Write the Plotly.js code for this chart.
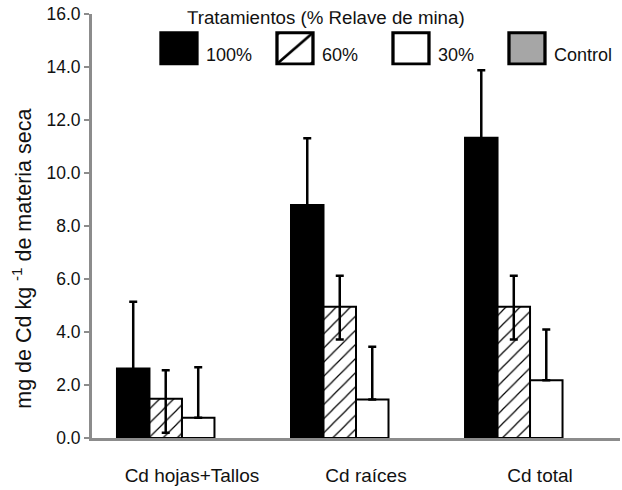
<!DOCTYPE html>
<html><head><meta charset="utf-8">
<script src="https://cdn.plot.ly/plotly-3.0.1.min.js"></script>
<style>
html,body{margin:0;padding:0;background:#fff;}
#chart{width:622px;height:490px;}
.legend .legendpoints path { transform: translate(27px,-5.5px) scale(3,2.6) !important; stroke-width: 1.1px !important; }
.legend .legendtitletext { transform: translate(33px,-12px); }
</style></head>
<body><div id="chart"></div>
<script>
const categories = ["Cd hojas+Tallos", "Cd raíces", "Cd total"];
const seriesNames = ["100%", "60%", "30%", "Control"];
const v100 = [2.62, 8.79, 11.33];
const e100Plus = [2.52, 2.52, 2.55];
const e100Minus = [2.68, 2.52, 2.55];
const v60 = [1.48, 4.95, 4.95];
const e60Plus = [1.08, 1.17, 1.17];
const e60Minus = [1.28, 1.23, 1.23];
const v30 = [0.76, 1.45, 2.18];
const e30Plus = [1.91, 1.99, 1.91];
const e30Minus = [0, 0, 0];
const vControl = [null, null, null];
const yTicks = [0, 2, 4, 6, 8, 10, 12, 14, 16];
const yTitle = "mg de Cd kg <sup>-1</sup> de materia seca";
const legendTitle = "Tratamientos (% Relave de mina)";

const FONT = "Liberation Sans, Arial, sans-serif";
const errStyle = {color: "#000", thickness: 2.5, width: 4};

function bar(name, y, plus, minus, marker) {
  const t = {type: "bar", name: name, x: categories, y: y, marker: marker, cliponaxis: false};
  if (plus) {
    t.error_y = Object.assign({type: "data", symmetric: false, array: plus, arrayminus: minus, visible: true}, errStyle);
  }
  return t;
}

const traces = [
  bar(seriesNames[0], v100, e100Plus, e100Minus, {color: "#000", line: {color: "#000", width: 2}}),
  bar(seriesNames[1], v60, e60Plus, e60Minus, {color: "#fff", line: {color: "#000", width: 2},
      pattern: {shape: "/", fgcolor: "#000", bgcolor: "#fff", size: 10, solidity: 0.12}}),
  bar(seriesNames[2], v30, e30Plus, e30Minus, {color: "#fff", line: {color: "#000", width: 2}}),
  bar(seriesNames[3], vControl, null, null, {color: "#a6a6a6", line: {color: "#000", width: 2}})
];

const layout = {
  width: 622, height: 490,
  margin: {l: 92, r: 2, t: 14, b: 52},
  paper_bgcolor: "#fff", plot_bgcolor: "#fff",
  font: {family: FONT, size: 17, color: "#111"},
  barmode: "group", bargap: 0.253, bargroupgap: 0,
  showlegend: true,
  legend: {
    orientation: "h", xref: "paper", yref: "paper",
    x: 0.1136, xanchor: "left", y: 1.0064, yanchor: "top",
    itemwidth: 44, entrywidth: 57, entrywidthmode: "pixels",
    font: {family: FONT, size: 18, color: "#111"},
    title: {text: legendTitle, side: "top", font: {family: FONT, size: 18.7, color: "#111"}},
    bgcolor: "rgba(0,0,0,0)", traceorder: "normal"
  },
  xaxis: {
    type: "category", range: [-0.517, 2.517],
    showline: true, linecolor: "#8c8c8c", linewidth: 3,
    ticks: "", showgrid: false, zeroline: false,
    tickfont: {family: FONT, size: 19, color: "#111"},
    ticklabelshift: 10, ticklabelstandoff: 18
  },
  yaxis: {
    range: [0, 16], tickvals: yTicks, tickformat: ".1f",
    ticks: "outside", ticklen: 5, tickwidth: 2, tickcolor: "#8c8c8c",
    showline: true, linecolor: "#8c8c8c", linewidth: 3,
    showgrid: false, zeroline: false,
    tickfont: {family: FONT, size: 17.5, color: "#111"}
  },
  annotations: [{
    text: yTitle, textangle: -90, showarrow: false,
    xref: "paper", yref: "paper", x: -0.133, y: 0.4222,
    xanchor: "center", yanchor: "middle",
    font: {family: FONT, size: 21.5, color: "#111"}
  }]
};

Plotly.newPlot("chart", traces, layout, {displayModeBar: false, staticPlot: true});
</script>
</body></html>
